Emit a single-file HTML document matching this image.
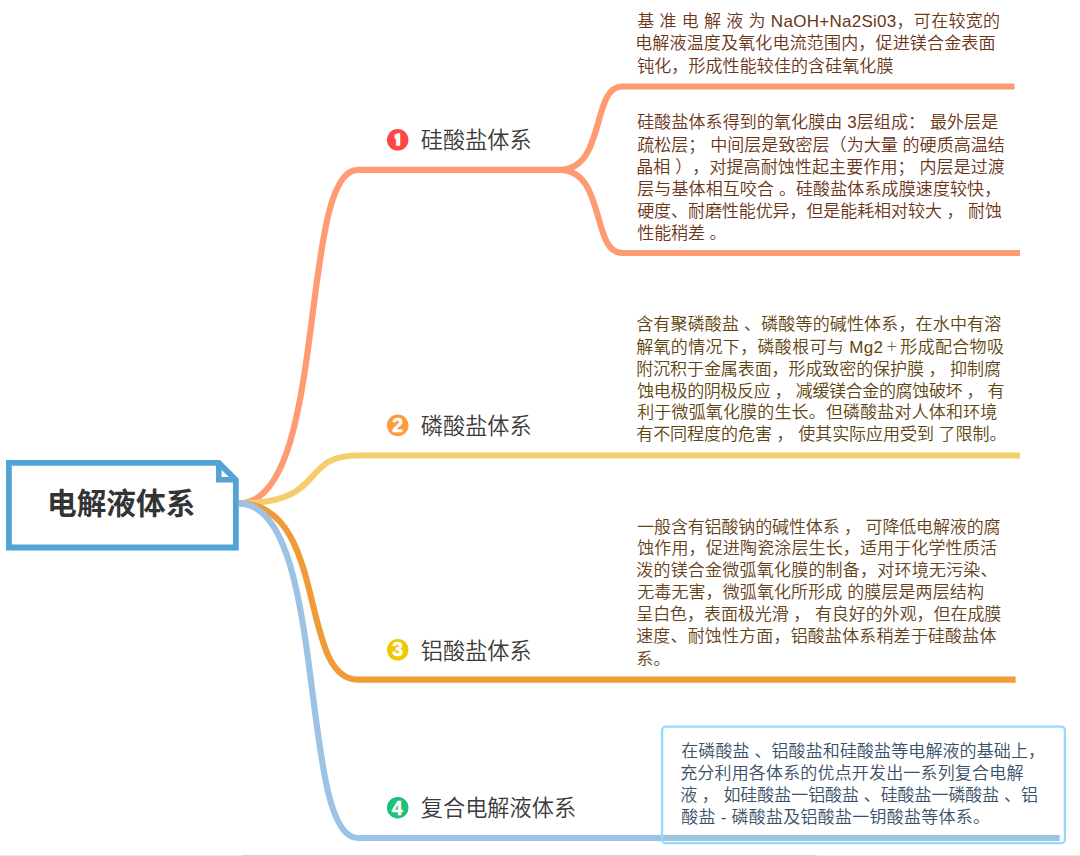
<!DOCTYPE html>
<html lang="zh-CN">
<head>
<meta charset="utf-8">
<title>电解液体系</title>
<style>
html,body{margin:0;padding:0;background:#fff;}
body{width:1080px;height:856px;position:relative;overflow:hidden;font-family:"Liberation Sans","Noto Sans CJK SC",sans-serif;}
svg#g{position:absolute;left:0;top:0;}
.t{position:absolute;white-space:nowrap;margin:0;}
.root{left:47px;top:482.6px;font-size:29.7px;line-height:42px;font-weight:bold;color:#333;}
.h{font-size:22.2px;line-height:30px;color:#3a3a3a;font-weight:350;}
.d{font-size:17px;line-height:22px;font-weight:350;text-spacing-trim:space-all;}
.p{display:inline-block;width:17px;text-align:center;font-size:12px;letter-spacing:0;position:relative;top:-2px;}
</style>
</head>
<body>
<svg id="g" width="1080" height="856" viewBox="0 0 1080 856" fill="none" stroke-linecap="butt">
  <path d="M238.8 503.4 C329 503.4 298 169.9 357.7 169.9 H559.3" stroke="#ff9b72" stroke-width="6.2"/>
  <path d="M238.8 503.4 C329 503.4 298 455.5 357.7 455.5 H1020" stroke="#f5cd6c" stroke-width="6.2"/>
  <path d="M238.8 503.4 C329 503.4 298 679.6 357.7 679.6 H1015.6" stroke="#f09a38" stroke-width="6.2"/>
  <path d="M238.8 503.4 C329 503.4 298 838 357.7 838 H1059.7" stroke="#9dc3e4" stroke-width="6.2"/>
  <path d="M559.3 169.9 C606.5 169.9 590.8 86.5 622.2 86.5 H1014.5" stroke="#ff9b72" stroke-width="6.2"/>
  <path d="M559.3 169.9 C606.5 169.9 590.8 253 622.2 253 H1020" stroke="#ff9b72" stroke-width="6.2"/>
  <path d="M8.9 462.9 H218.8 L235.85 479.95 V547.5 H8.9 Z" fill="#fff" stroke="#53a3d4" stroke-width="5.8" stroke-linejoin="miter"/>
  <path d="M218.8 462.9 V479.8 H235.85" stroke="#53a3d4" stroke-width="5.6"/>
  <rect x="662.1" y="726.7" width="402.8" height="116.5" rx="3.8" stroke="#92dafc" stroke-width="2.3"/>
  <rect x="0" y="855" width="1080" height="1" fill="#ebebeb" stroke="none"/>
  <rect x="242" y="855" width="575" height="1" fill="#d3d3d3" stroke="none"/>
  <g font-family="Liberation Sans, sans-serif" font-weight="bold" font-size="19.5" text-anchor="middle" stroke="#fff" stroke-width="0.5" fill="#fff">
    <circle cx="397.7" cy="139.8" r="10.75" fill="#ff4646" stroke="none"/><text x="397.9" y="144.9" font-family="IPAGothic, Liberation Sans, sans-serif" font-weight="normal" font-size="13.8" stroke-width="2.8" stroke-linejoin="miter">1</text>
    <circle cx="397.7" cy="425.3" r="10.75" fill="#ff9b3c" stroke="none"/><text x="397.8" y="432" >2</text>
    <circle cx="397.7" cy="649.8" r="10.75" fill="#eec800" stroke="none"/><text x="397.8" y="656.4">3</text>
    <circle cx="397.7" cy="807.7" r="10.75" fill="#20c078" stroke="none"/><text x="397.2" y="814.8">4</text>
  </g>
</svg>
<div class="t root">电解液体系</div>
<div class="t h" style="left:420.8px;top:126px;">硅酸盐体系</div>
<div class="t h" style="left:420.8px;top:412px;">磷酸盐体系</div>
<div class="t h" style="left:420.8px;top:637px;">铝酸盐体系</div>
<div class="t h" style="left:420.8px;top:794px;">复合电解液体系</div>
<div class="t d" style="left:637.2px;top:11.0px;letter-spacing:0.279px;color:#6b3517">基 准 电 解 液 为 NaOH+Na2Si03，可在较宽的</div>
<div class="t d" style="left:635.2px;top:33.0px;letter-spacing:0.165px;color:#6b3517">电解液温度及氧化电流范围内，促进镁合金表面</div>
<div class="t d" style="left:637.2px;top:56.0px;letter-spacing:0.086px;color:#6b3517">钝化，形成性能较佳的含硅氧化膜</div>
<div class="t d" style="left:637.2px;top:112.0px;letter-spacing:0.095px;color:#6b3517">硅酸盐体系得到的氧化膜由 3层组成： 最外层是</div>
<div class="t d" style="left:637.2px;top:135.0px;letter-spacing:0.055px;color:#6b3517">疏松层； 中间层是致密层（为大量 的硬质高温结</div>
<div class="t d" style="left:636.2px;top:157.0px;letter-spacing:0.100px;color:#6b3517">晶相 ），对提高耐蚀性起主要作用； 内层是过渡</div>
<div class="t d" style="left:637.2px;top:179.0px;letter-spacing:0.110px;color:#6b3517">层与基体相互咬合 。硅酸盐体系成膜速度较快，</div>
<div class="t d" style="left:637.2px;top:201.0px;letter-spacing:-0.077px;color:#6b3517">硬度、耐磨性能优异，但是能耗相对较大 ， 耐蚀</div>
<div class="t d" style="left:637.2px;top:223.0px;letter-spacing:-0.060px;color:#6b3517">性能稍差 。</div>
<div class="t d" style="left:636.2px;top:314.0px;letter-spacing:0.157px;color:#5f4510">含有聚磷酸盐 、磷酸等的碱性体系，在水中有溶</div>
<div class="t d" style="left:636.2px;top:337.0px;letter-spacing:0.332px;color:#5f4510">解氧的情况下，磷酸根可与 Mg2<span class="p">＋</span>形成配合物吸</div>
<div class="t d" style="left:636.2px;top:359.0px;letter-spacing:-0.077px;color:#5f4510">附沉积于金属表面，形成致密的保护膜 ， 抑制腐</div>
<div class="t d" style="left:637.2px;top:381.0px;letter-spacing:-0.354px;color:#5f4510">蚀电极的阴极反应 ， 减缓镁合金的腐蚀破坏 ， 有</div>
<div class="t d" style="left:637.2px;top:402.0px;letter-spacing:0.155px;color:#5f4510">利于微弧氧化膜的生长。但磷酸盐对人体和环境</div>
<div class="t d" style="left:636.2px;top:424.0px;letter-spacing:-0.039px;color:#5f4510">有不同程度的危害 ， 使其实际应用受到 了限制。</div>
<div class="t d" style="left:637.2px;top:517.0px;letter-spacing:-0.141px;color:#65421a">一般含有铝酸钠的碱性体系 ， 可降低电解液的腐</div>
<div class="t d" style="left:637.2px;top:538.0px;letter-spacing:0.135px;color:#65421a">蚀作用，促进陶瓷涂层生长，适用于化学性质活</div>
<div class="t d" style="left:636.2px;top:560.0px;letter-spacing:0.220px;color:#65421a">泼的镁合金微弧氧化膜的制备，对环境无污染、</div>
<div class="t d" style="left:637.2px;top:582.0px;letter-spacing:0.100px;color:#65421a">无毒无害，微弧氧化所形成 的膜层是两层结构</div>
<div class="t d" style="left:636.2px;top:604.0px;letter-spacing:-0.059px;color:#65421a">呈白色，表面极光滑 ， 有良好的外观，但在成膜</div>
<div class="t d" style="left:636.2px;top:626.0px;letter-spacing:0.160px;color:#65421a">速度、耐蚀性方面，铝酸盐体系稍差于硅酸盐体</div>
<div class="t d" style="left:636.2px;top:649.0px;letter-spacing:0.400px;color:#65421a">系。</div>
<div class="t d" style="left:681.2px;top:741.0px;letter-spacing:0.100px;color:#38506a">在磷酸盐 、铝酸盐和硅酸盐等电解液的基础上，</div>
<div class="t d" style="left:680.2px;top:763.0px;letter-spacing:0.168px;color:#38506a">充分利用各体系的优点开发出一系列复合电解</div>
<div class="t d" style="left:680.2px;top:785.0px;letter-spacing:-0.052px;color:#38506a">液 ， 如硅酸盐一铝酸盐 、硅酸盐一磷酸盐 、铝</div>
<div class="t d" style="left:681.2px;top:807.0px;letter-spacing:0.242px;color:#38506a">酸盐 - 磷酸盐及铝酸盐一钥酸盐等体系。</div>
</body>
</html>
